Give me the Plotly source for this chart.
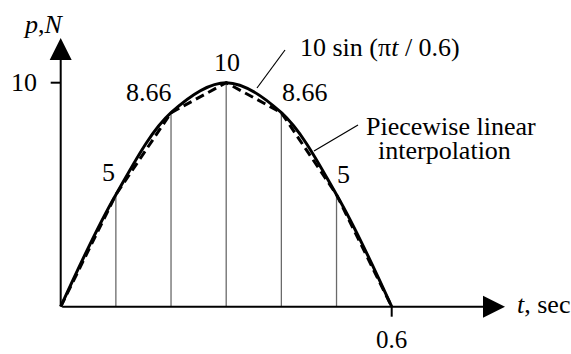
import plotly.graph_objects as go

# ---- data ----
t_samples = [0.0, 0.1, 0.2, 0.3, 0.4, 0.5, 0.6]
p_samples = [0.0, 5.0, 8.66, 10.0, 8.66, 5.0, 0.0]
value_labels = ["5", "8.66", "10", "8.66", "5"]
x_tick_vals = [0.6]
x_tick_text = ["0.6"]
y_tick_vals = [10]
y_tick_text = ["10"]
curve_label = "10 sin (π<i>t</i> / 0.6)"
interp_label_lines = ["Piecewise linear", "interpolation"]
x_axis_title = "<i>t</i>, sec"
y_axis_title = "<i>p</i>,<i>N</i>"

# ---- geometry (pixel mapping) ----
W, H = 571, 354
x0_px, y0_px = 60.7, 306.7
sx = (391.7 - 60.7) / 0.6      # px per second
sy = (306.7 - 82.7) / 10.0     # px per N
xr = [-x0_px / sx, (W - x0_px) / sx]
yr = [-(H - y0_px) / sy, y0_px / sy]

FONT = "Liberation Serif, Times New Roman, serif"
FS = 26

fig = go.Figure()

# vertical sampling lines
vx, vy = [], []
for t, p in zip(t_samples[1:-1], p_samples[1:-1]):
    vx += [t, t, None]
    vy += [0, p, None]
fig.add_trace(go.Scatter(x=vx, y=vy, mode="lines",
                         line=dict(color="#6a6a6a", width=1.3),
                         hoverinfo="skip", showlegend=False))

# piecewise linear interpolation (dashed)
fig.add_trace(go.Scatter(x=t_samples, y=p_samples, mode="lines",
                         line=dict(color="black", width=3, dash="9px,5px"),
                         showlegend=False))

# smooth sine curve through samples
fig.add_trace(go.Scatter(x=t_samples, y=p_samples, mode="lines",
                         line=dict(color="black", width=3, shape="spline", smoothing=1.0),
                         showlegend=False))

tip_x = (505 - x0_px) / sx
tip_y = (y0_px - 38) / sy

# axes with arrows
fig.add_annotation(x=tip_x, y=0, ax=0, ay=0, xref="x", yref="y", axref="x", ayref="y",
                   text="", showarrow=True, arrowhead=2, arrowwidth=2, arrowsize=2.2,
                   arrowcolor="black")
fig.add_annotation(x=0, y=tip_y, ax=0, ay=0, xref="x", yref="y", axref="x", ayref="y",
                   text="", showarrow=True, arrowhead=2, arrowwidth=2, arrowsize=2.2,
                   arrowcolor="black")

# ticks
for v, txt in zip(x_tick_vals, x_tick_text):
    fig.add_shape(type="line", x0=v, x1=v, y0=0, y1=-10 / sy,
                  line=dict(color="black", width=2))
    fig.add_annotation(x=v, y=0, text=txt, showarrow=False, yshift=-33,
                       font=dict(family=FONT, size=25, color="black"))
for v, txt in zip(y_tick_vals, y_tick_text):
    fig.add_shape(type="line", x0=-10 / sx, x1=0, y0=v, y1=v,
                  line=dict(color="black", width=2))
    fig.add_annotation(x=0, y=v, text=txt, showarrow=False, xanchor="right", xshift=-22,
                       font=dict(family=FONT, size=FS, color="black"))

# axis titles
fig.add_annotation(x=tip_x, y=0, text=x_axis_title, showarrow=False, xanchor="left",
                   xshift=10, yshift=2, font=dict(family=FONT, size=FS, color="black"))
fig.add_annotation(x=0, y=tip_y, text=y_axis_title, showarrow=False,
                   xshift=-17, yshift=14, font=dict(family=FONT, size=FS, color="black"))

# value labels
shifts = [(-7, 22), (-22, 20), (1, 20), (24, 20), (7, 20)]
for t, p, lab, (dx, dy) in zip(t_samples[1:-1], p_samples[1:-1], value_labels, shifts):
    fig.add_annotation(x=t, y=p, text=lab, showarrow=False, xshift=dx, yshift=dy,
                       font=dict(family=FONT, size=FS, color="black"))

# curve label with leader
def px2d(px, py):
    return (px - x0_px) / sx, (y0_px - py) / sy

lx0, ly0 = px2d(257, 88)
lx1, ly1 = px2d(285, 50)
fig.add_shape(type="line", x0=lx0, y0=ly0, x1=lx1, y1=ly1, line=dict(color="black", width=1.2))
cx, cy = px2d(298, 47)
fig.add_annotation(x=cx, y=cy, text=curve_label, showarrow=False, xanchor="left",
                   font=dict(family=FONT, size=FS, color="black"))

# interpolation label with leader
lx0, ly0 = px2d(314, 151)
lx1, ly1 = px2d(358, 125)
fig.add_shape(type="line", x0=lx0, y0=ly0, x1=lx1, y1=ly1, line=dict(color="black", width=1.2))
for (px, py), line in zip([(364, 126), (376, 150)], interp_label_lines):
    ax_, ay_ = px2d(px, py)
    fig.add_annotation(x=ax_, y=ay_, text=line, showarrow=False, xanchor="left",
                       font=dict(family=FONT, size=FS, color="black"))

fig.update_layout(
    width=W, height=H,
    margin=dict(l=0, r=0, t=0, b=0, pad=0),
    paper_bgcolor="white", plot_bgcolor="white",
    xaxis=dict(range=xr, visible=False, fixedrange=True),
    yaxis=dict(range=yr, visible=False, fixedrange=True),
    showlegend=False,
)

fig.write_html("out.html", config={"displayModeBar": False},
               post_script="document.body.style.margin='0';")
